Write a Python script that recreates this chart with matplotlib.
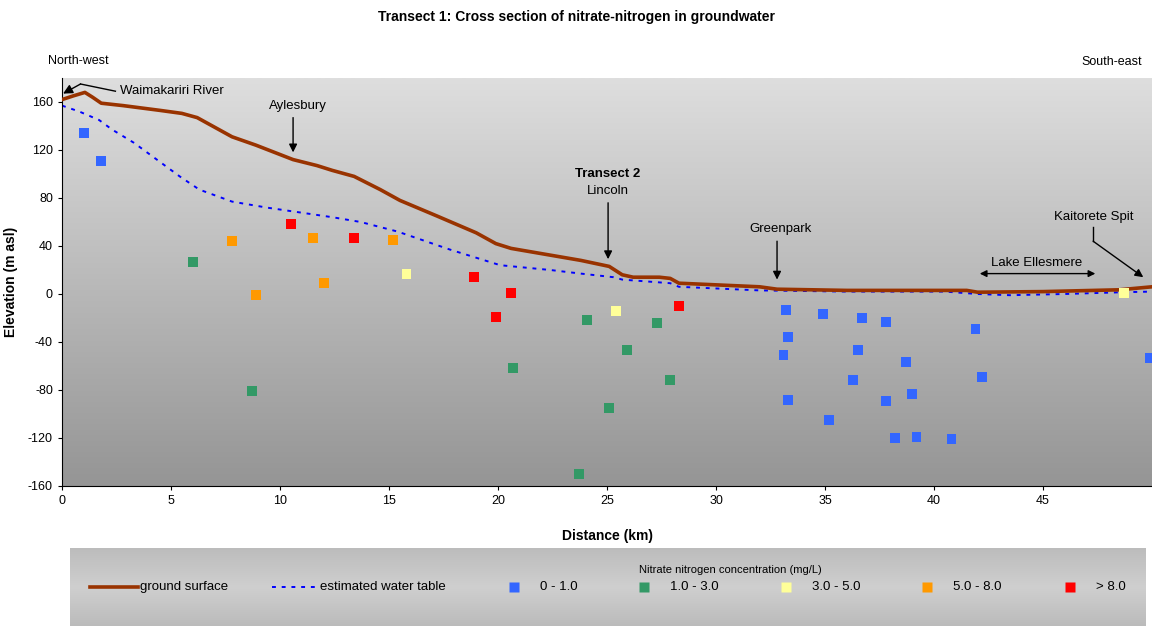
import numpy as np
import matplotlib
matplotlib.use("Agg")
import matplotlib.pyplot as plt
from matplotlib.colors import LinearSegmentedColormap
from matplotlib.lines import Line2D

plt.rcParams['font.family'] = ['Liberation Sans', 'DejaVu Sans']
plt.rcParams['axes.unicode_minus'] = False

# ground surface profile (km, m asl)
ground_x = [0, 0.5, 1.05, 1.4, 1.8, 2.8, 4.5, 5.5, 6.2, 6.8, 7.4, 7.8, 8.9, 10.6, 11.7,
            12.4, 13.4, 14.6, 15.2, 15.5, 17.2, 19.0, 19.5, 19.9, 20.6, 23.8, 25.1, 25.7,
            26.2, 27.4, 27.9, 28.3, 32.0, 32.8, 36.0, 40.5, 41.5, 42.0, 45.0, 48.5, 50.0]
ground_y = [162, 165, 168, 164, 159, 157, 153, 150.5, 147, 141, 135, 131, 124, 112, 107,
            103, 98, 87, 81, 78, 65, 51, 46, 42, 38, 28, 23, 16,
            14, 14, 13, 9, 6, 4, 3, 3, 3, 1.5, 2, 3.5, 6]

# estimated water table
wt_x = [0, 0.8, 1.7, 2.3, 3.3, 4.2, 5.4, 6.3, 7.8, 9.4, 10.9, 12.4, 13.7, 15.4,
        17.8, 20.1, 22.4, 23.8, 25.3, 25.7, 27.9, 28.3, 32.0, 36.0, 40.5, 42.0,
        43.5, 46.0, 48.7, 50.0]
wt_y = [157, 152, 145, 137, 126, 114, 98, 87, 77, 72, 68, 64, 60, 52,
        37, 24, 20, 17, 14, 12, 9, 6, 3, 2, 2, 0, -1, 0, 1.5, 2]

# nitrate samples by concentration class
blue_x = [1.0, 1.8, 33.2, 33.3, 33.1, 33.3, 34.9, 36.7, 37.8, 36.5, 36.3, 37.8,
          35.2, 38.7, 39.0, 38.2, 39.2, 40.8, 41.9, 42.2, 49.9]
blue_y = [134, 111, -13, -36, -51, -88, -17, -20, -23, -47, -72, -89,
          -105, -57, -83, -120, -119, -121, -29, -69, -53]
green_x = [6.0, 8.7, 20.7, 24.1, 25.9, 25.1, 27.3, 27.9, 23.7]
green_y = [27, -81, -62, -22, -47, -95, -24, -72, -150]
yellow_x = [15.8, 25.4, 48.7]
yellow_y = [17, -14, 1]
orange_x = [7.8, 11.5, 15.2, 8.9, 12.0]
orange_y = [44, 47, 45, -1, 9]
red_x = [10.5, 13.4, 18.9, 20.6, 19.9, 28.3]
red_y = [58, 47, 14, 1, -19, -10]

classes = ["0 - 1.0", "1.0 - 3.0", "3.0 - 5.0", "5.0 - 8.0", "> 8.0"]
class_colors = ["#3366ff", "#339966", "#ffff99", "#ff9900", "#ff0000"]
samples = [(blue_x, blue_y), (green_x, green_y), (yellow_x, yellow_y),
           (orange_x, orange_y), (red_x, red_y)]

ground_col = "#993300"
wt_col = "#0000ff"

fig = plt.figure(figsize=(11.52, 6.26), dpi=100)
ax = fig.add_axes([62 / 1152, (626 - 486) / 626, (1152 - 62) / 1152, 408 / 626])

# gradient background
bg = LinearSegmentedColormap.from_list("bg", ["#959595", "#dedede"])
grad = np.linspace(0, 1, 256).reshape(-1, 1)
ax.imshow(grad, extent=[0, 1, 0, 1], transform=ax.transAxes, aspect='auto',
          cmap=bg, origin='lower', zorder=0)

ax.plot(ground_x, ground_y, color=ground_col, lw=2.6, zorder=3,
        solid_capstyle='round', solid_joinstyle='round')
ax.plot(wt_x, wt_y, color=wt_col, lw=1.4, ls=(0, (2, 3)), zorder=2)

for (sx, sy), c in zip(samples, class_colors):
    ax.scatter(sx, sy, marker='s', s=50, color=c, edgecolors='none', zorder=4)

ax.set_xlim(0, 50)
ax.set_ylim(-160, 180)
ax.set_xticks(np.arange(0, 50, 5))
ax.set_yticks(np.arange(-160, 161, 40))
ax.tick_params(labelsize=9, length=3, direction='out')
for s in ['top', 'right']:
    ax.spines[s].set_visible(False)
ax.set_xlabel("Distance (km)", fontsize=10, fontweight='bold', labelpad=16)
ax.set_ylabel("Elevation (m asl)", fontsize=10, fontweight='bold')
ax.yaxis.set_label_coords(-44 / 1090, 0.5)

fig.text(0.5, 1 - 17 / 626, "Transect 1: Cross section of nitrate-nitrogen in groundwater",
         ha='center', va='center', fontsize=10, fontweight='bold')
fig.text(48 / 1152, 1 - 61 / 626, "North-west", ha='left', va='center', fontsize=9)
fig.text(1142 / 1152, 1 - 62 / 626, "South-east", ha='right', va='center', fontsize=9)

arr = dict(arrowstyle='-|>', color='black', lw=1.0, mutation_scale=12, shrinkA=0, shrinkB=0)

# Waimakariri River
ax.text(2.65, 169, "Waimakariri River", fontsize=9.5, ha='left', va='center')
ax.plot([2.45, 0.85], [169, 175], color='black', lw=1.0, zorder=5)
ax.annotate("", xy=(0.05, 167), xytext=(0.85, 175),
            arrowprops=dict(arr, mutation_scale=14))

# Aylesbury
ax.text(10.83, 157, "Aylesbury", fontsize=9.5, ha='center', va='center')
ax.annotate("", xy=(10.6, 118), xytext=(10.6, 147), arrowprops=arr)

# Lincoln
ax.annotate("", xy=(25.05, 29), xytext=(25.05, 76), arrowprops=arr)
ax.text(25.05, 100, "Transect 2", fontsize=9.5, fontweight='bold', ha='center', va='center')
ax.text(25.05, 86, "Lincoln", fontsize=9.5, ha='center', va='center')

# Greenpark
ax.text(32.95, 54, "Greenpark", fontsize=9.5, ha='center', va='center')
ax.annotate("", xy=(32.8, 12), xytext=(32.8, 44), arrowprops=arr)

# Lake Ellesmere
ax.annotate("", xy=(42.1, 17), xytext=(47.4, 17),
            arrowprops=dict(arrowstyle='<|-|>', color='black', lw=1.0, mutation_scale=10,
                            shrinkA=0, shrinkB=0))
ax.text(44.7, 26, "Lake Ellesmere", fontsize=9.5, ha='center', va='center')

# Kaitorete Spit
ax.text(47.35, 64, "Kaitorete Spit", fontsize=9.5, ha='center', va='center')
ax.plot([47.3, 47.3], [56, 44], color='black', lw=1.0, zorder=5)
ax.annotate("", xy=(49.6, 14), xytext=(47.3, 44), arrowprops=arr)

# legend panel
lax = fig.add_axes([70 / 1152, 0, (1146 - 70) / 1152, (626 - 548) / 626])
lg = LinearSegmentedColormap.from_list("lg", ["#bcbcbc", "#cfcfcf", "#bbbbbb"])
lax.imshow(grad, extent=[0, 1, 0, 1], aspect='auto', cmap=lg, origin='upper', zorder=0)
lax.set_xlim(0, 1)
lax.set_ylim(0, 1)
lax.axis('off')

def lx(px):
    return (px - 70) / (1146 - 70)

ly = 1 - (587 - 548) / 78
lax.text(lx(730), 1 - (570 - 548) / 78, "Nitrate nitrogen concentration (mg/L)",
         fontsize=8, ha='center', va='center')
lax.add_line(Line2D([lx(90), lx(138)], [ly, ly], color=ground_col, lw=2.6))
lax.text(lx(140), ly, "ground surface", fontsize=9.5, va='center')
lax.add_line(Line2D([lx(272), lx(316)], [ly, ly], color=wt_col, lw=1.4, ls=(0, (2, 3))))
lax.text(lx(320), ly, "estimated water table", fontsize=9.5, va='center')
for px, c, lab in zip([514, 644, 786, 927, 1070], class_colors, classes):
    lax.plot([lx(px)], [ly], marker='s', ms=6.6, color=c, mec='none')
    lax.text(lx(540 - 514 + px), ly, lab, fontsize=9.5, va='center')

fig.savefig("out.png", dpi=100)
